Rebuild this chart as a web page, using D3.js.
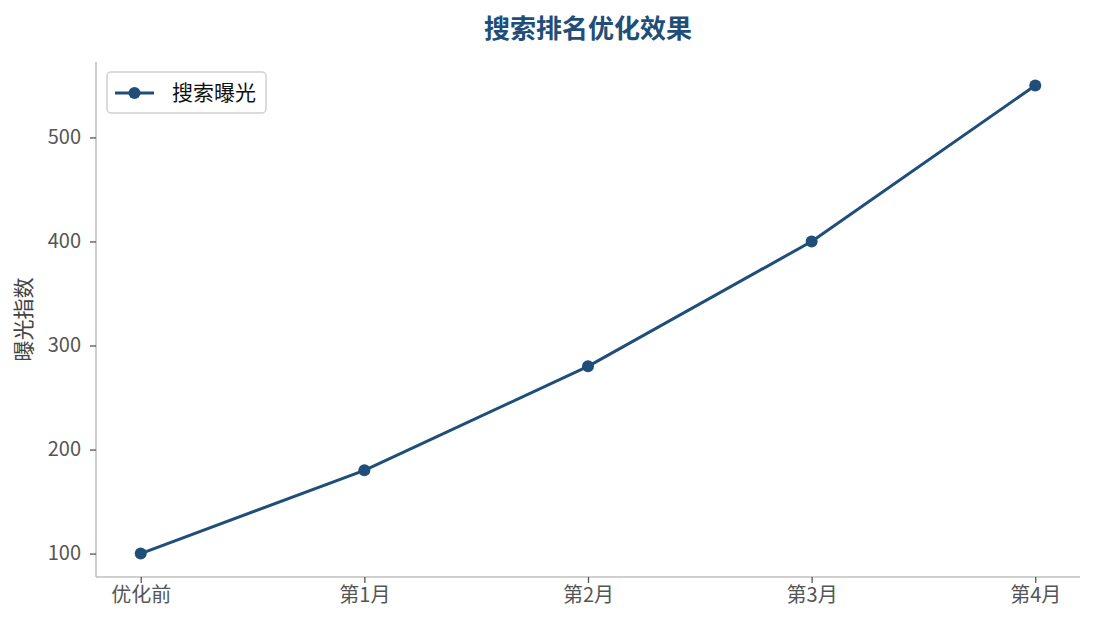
<!DOCTYPE html>
<html>
<head>
<meta charset="utf-8">
<script src="https://cdn.jsdelivr.net/npm/d3@7"></script>
<style>
  body { margin: 0; background: #fff; }
  text { font-family: "Noto Sans CJK SC", "Noto Sans", sans-serif; }
  .tick text { fill: #555; font-size: 20px; font-family: "Noto Sans CJK SC", "Noto Sans", sans-serif; }
  .tick line { stroke: #555; stroke-width: 1.3; }
  .domain { stroke: #bfbfbf; stroke-width: 1.5; }
</style>
</head>
<body>
<div id="wrapper"></div>
<script>
const categories = ["优化前", "第1月", "第2月", "第3月", "第4月"]
const exposure = [100, 180, 280, 400, 550]
const yTicks = [100, 200, 300, 400, 500]
const seriesName = "搜索曝光"
const color = "#1f4e79"

const dimensions = {
  width: 1095,
  height: 630,
  margin: { top: 62, right: 15, bottom: 53, left: 96 },
}
dimensions.boundedWidth = dimensions.width - dimensions.margin.left - dimensions.margin.right
dimensions.boundedHeight = dimensions.height - dimensions.margin.top - dimensions.margin.bottom

const svg = d3.select("#wrapper").append("svg")
  .attr("width", dimensions.width)
  .attr("height", dimensions.height)

const bounds = svg.append("g")
  .attr("transform", `translate(${dimensions.margin.left},${dimensions.margin.top})`)

// matplotlib-style 5% margins
const n = categories.length - 1
const xScale = d3.scaleLinear()
  .domain([-0.05 * n, n * 1.05])
  .range([0, dimensions.boundedWidth])

const yExtent = d3.extent(exposure)
const pad = (yExtent[1] - yExtent[0]) * 0.05
const yScale = d3.scaleLinear()
  .domain([yExtent[0] - pad, yExtent[1] + pad])
  .range([dimensions.boundedHeight, 0])

const xAxis = bounds.append("g")
  .attr("transform", `translate(0,${dimensions.boundedHeight})`)
  .call(d3.axisBottom(xScale)
    .tickValues(d3.range(categories.length))
    .tickFormat(i => categories[i])
    .tickSizeOuter(0)
    .tickSize(6)
    .tickPadding(5))

const yAxis = bounds.append("g")
  .call(d3.axisLeft(yScale)
    .tickValues(yTicks)
    .tickSizeOuter(0)
    .tickSize(6)
    .tickPadding(9))

// keep only left and bottom spines, extended to full range
xAxis.select(".domain").attr("d", `M0,0H${dimensions.boundedWidth}`)
yAxis.select(".domain").attr("d", `M0,0V${dimensions.boundedHeight}`)

const line = d3.line()
  .x((d, i) => xScale(i))
  .y(d => yScale(d))

bounds.append("path")
  .datum(exposure)
  .attr("fill", "none")
  .attr("stroke", color)
  .attr("stroke-width", 3)
  .attr("stroke-linejoin", "round")
  .attr("d", line)

bounds.append("g")
  .selectAll("circle")
  .data(exposure)
  .join("circle")
    .attr("cx", (d, i) => xScale(i))
    .attr("cy", d => yScale(d))
    .attr("r", 6)
    .attr("fill", color)

// title
svg.append("text")
  .attr("x", dimensions.margin.left + dimensions.boundedWidth / 2)
  .attr("y", 38)
  .attr("text-anchor", "middle")
  .attr("font-size", 26)
  .attr("font-weight", "bold")
  .attr("fill", color)
  .text("搜索排名优化效果")

// y label
svg.append("text")
  .attr("transform", `translate(31,${dimensions.margin.top + dimensions.boundedHeight / 2}) rotate(-90)`)
  .attr("text-anchor", "middle")
  .attr("font-size", 21)
  .attr("fill", "#444")
  .text("曝光指数")

// legend
const legend = bounds.append("g").attr("transform", "translate(11,10)")
legend.append("rect")
  .attr("width", 159)
  .attr("height", 41)
  .attr("rx", 4)
  .attr("fill", "#fff")
  .attr("stroke", "#d0d0d0")
  .attr("stroke-width", 1.5)
legend.append("line")
  .attr("x1", 8).attr("x2", 47)
  .attr("y1", 21).attr("y2", 21)
  .attr("stroke", color)
  .attr("stroke-width", 3)
legend.append("circle")
  .attr("cx", 27.5).attr("cy", 21).attr("r", 6)
  .attr("fill", color)
legend.append("text")
  .attr("x", 65).attr("y", 28)
  .attr("font-size", 21)
  .attr("fill", "#111")
  .text(seriesName)
</script>
</body>
</html>
